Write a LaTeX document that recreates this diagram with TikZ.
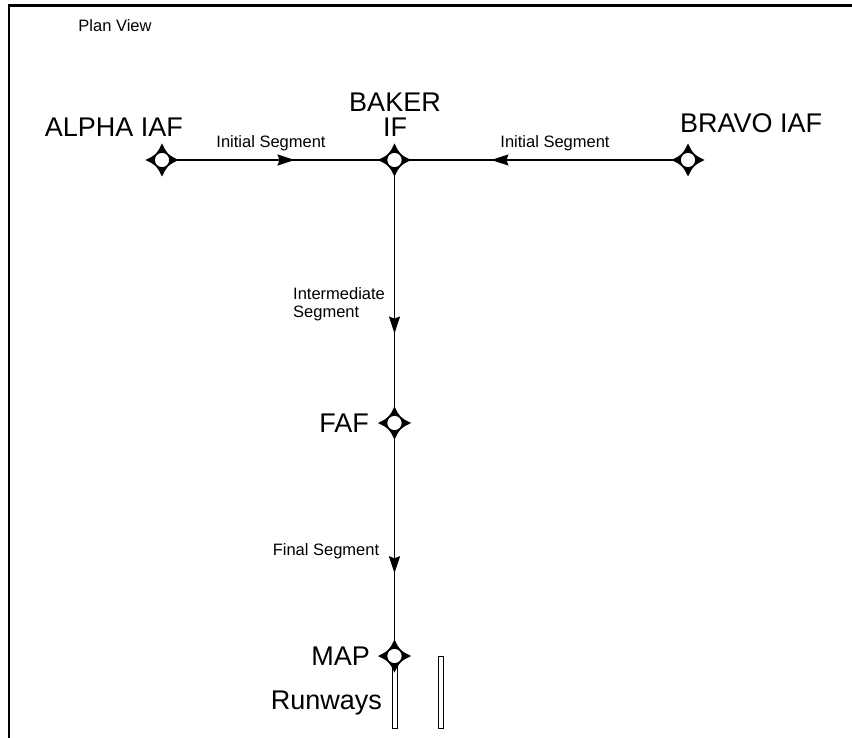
\documentclass[tikz,border=0pt]{standalone}
\usepackage{fontspec}
\setmainfont{Liberation Sans}
\usetikzlibrary{arrows.meta,decorations.markings}
\begin{document}
\begin{tikzpicture}[x=1pt,y=-1pt,
  seg/.style={line width=1.8pt, draw=black},
  midarrow/.style={postaction={decorate}, decoration={markings,
     mark=at position #1 with {\arrow{Stealth[length=17pt,width=11pt,inset=2pt]}}}},
  big/.style={inner sep=0pt, font=\fontsize{27}{30}\selectfont},
  small/.style={inner sep=0pt, font=\fontsize{16.5}{18}\selectfont},
  runwaybox/.style={draw=black, line width=0.9pt, fill=white},
  wpt/.pic={
    \fill[black] (16.5,0) .. controls (5.5,5.5) .. (0,16.5) .. controls (-5.5,5.5) .. (-16.5,0)
       .. controls (-5.5,-5.5) .. (0,-16.5) .. controls (5.5,-5.5) .. cycle;
    \draw[line width=1.6pt, fill=white] (0,0) circle (8);
  }]
\useasboundingbox (0,0) rectangle (852,738);
% border
\draw[line width=2.6pt] (9,738) -- (9,5.5) -- (852,5.5);

% waypoints
\coordinate (alpha) at (162,160);
\coordinate (baker) at (394.5,160);
\coordinate (bravo) at (688,160);
\coordinate (faf)   at (394.5,423);
\coordinate (map)   at (394.5,656);

% runways
\draw[runwaybox] (392,656) rectangle (397,728);
\draw[runwaybox] (438.5,656) rectangle (443.5,728);

% segments
\draw[seg, midarrow=0.57] (alpha) -- (baker);
\draw[seg, midarrow=0.67] (bravo) -- (baker);
\draw[seg, midarrow=0.66] (baker) -- (faf);
\draw[seg, midarrow=0.645] (faf) -- (map);

% symbols
\foreach \w in {alpha,baker,bravo,faf,map} { \pic at (\w) {wpt}; }

% labels
\node[small, anchor=base] (plan) at (115,32) {Plan View};
\node[big, anchor=base east] (alphal) at (183,137) {ALPHA IAF};
\node[big, anchor=base] (bakerl) at (395,112) {BAKER};
\node[big, anchor=base] (ifl) at (395,137) {IF};
\node[big, anchor=base west] (bravol) at (680,133) {BRAVO IAF};
\node[small, anchor=base] (init1) at (271,148) {Initial Segment};
\node[small, anchor=base] (init2) at (555,148) {Initial Segment};
\node[small, anchor=base west] (inter1) at (293,300) {Intermediate};
\node[small, anchor=base west] (inter2) at (293,318) {Segment};
\node[big, anchor=base east] (fafl) at (369,432) {FAF};
\node[small, anchor=base] (finl) at (326,555) {Final Segment};
\node[big, anchor=base east] (mapl) at (370,665) {MAP};
\node[big, anchor=base east] (rwl) at (382,709) {Runways};
\end{tikzpicture}
\end{document}
